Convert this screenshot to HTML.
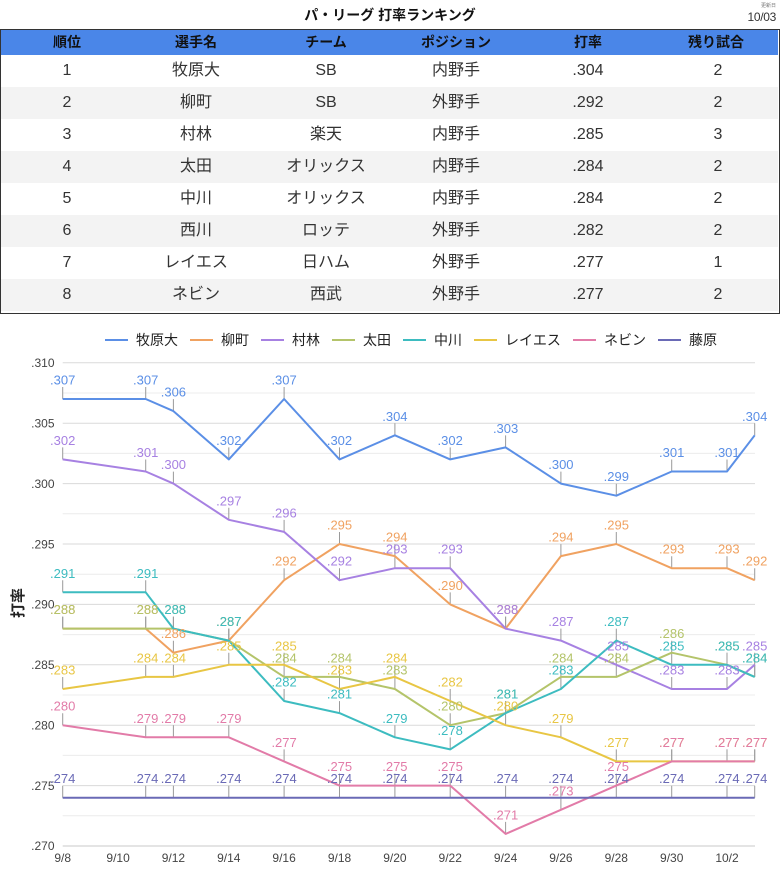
<!DOCTYPE html>
<html><head><meta charset="utf-8">
<style>
html,body{margin:0;padding:0;background:#fff;}
body{width:780px;height:878px;position:relative;overflow:hidden;font-family:"Liberation Sans","Noto Sans CJK JP",sans-serif;}
.title{position:absolute;left:0;top:5px;width:780px;text-align:center;font-weight:bold;font-size:14px;line-height:20px;color:#111;}
.upd{position:absolute;right:4px;top:3px;font-size:5px;line-height:6px;color:#777;}
.date{position:absolute;right:4px;top:10px;font-size:12px;line-height:14px;color:#333;letter-spacing:-0.3px;}
.tbl{position:absolute;left:0;top:29px;width:780px;height:285px;box-sizing:border-box;border:1.5px solid #333;}
.row{position:absolute;left:0;width:777px;height:32px;}
.hdr{top:0;height:25px;background:#4a86e8;}
.cell{position:absolute;top:0;width:130px;text-align:center;}
.hdr .cell{font-weight:bold;font-size:14px;line-height:25px;color:#111;}
.r .cell{font-size:16px;line-height:32px;color:#333;}
.alt{background:#f3f3f3;}
svg{position:absolute;left:0;top:0;}
</style></head><body>
<div class="title">パ・リーグ 打率ランキング</div>
<div class="upd">更新日</div>
<div class="date">10/03</div>
<div class="tbl">
 <div class="row hdr"><div class="cell" style="left:1px">順位</div><div class="cell" style="left:130px">選手名</div><div class="cell" style="left:260px">チーム</div><div class="cell" style="left:390px">ポジション</div><div class="cell" style="left:522px">打率</div><div class="cell" style="left:650px">残り試合</div></div>
 <div class="row r" style="top:25px"><div class="cell" style="left:1px">1</div><div class="cell" style="left:130px">牧原大</div><div class="cell" style="left:260px">SB</div><div class="cell" style="left:390px">内野手</div><div class="cell" style="left:522px">.304</div><div class="cell" style="left:652px">2</div></div>
 <div class="row r alt" style="top:57px"><div class="cell" style="left:1px">2</div><div class="cell" style="left:130px">柳町</div><div class="cell" style="left:260px">SB</div><div class="cell" style="left:390px">外野手</div><div class="cell" style="left:522px">.292</div><div class="cell" style="left:652px">2</div></div>
 <div class="row r" style="top:89px"><div class="cell" style="left:1px">3</div><div class="cell" style="left:130px">村林</div><div class="cell" style="left:260px">楽天</div><div class="cell" style="left:390px">内野手</div><div class="cell" style="left:522px">.285</div><div class="cell" style="left:652px">3</div></div>
 <div class="row r alt" style="top:121px"><div class="cell" style="left:1px">4</div><div class="cell" style="left:130px">太田</div><div class="cell" style="left:260px">オリックス</div><div class="cell" style="left:390px">内野手</div><div class="cell" style="left:522px">.284</div><div class="cell" style="left:652px">2</div></div>
 <div class="row r" style="top:153px"><div class="cell" style="left:1px">5</div><div class="cell" style="left:130px">中川</div><div class="cell" style="left:260px">オリックス</div><div class="cell" style="left:390px">内野手</div><div class="cell" style="left:522px">.284</div><div class="cell" style="left:652px">2</div></div>
 <div class="row r alt" style="top:185px"><div class="cell" style="left:1px">6</div><div class="cell" style="left:130px">西川</div><div class="cell" style="left:260px">ロッテ</div><div class="cell" style="left:390px">外野手</div><div class="cell" style="left:522px">.282</div><div class="cell" style="left:652px">2</div></div>
 <div class="row r" style="top:217px"><div class="cell" style="left:1px">7</div><div class="cell" style="left:130px">レイエス</div><div class="cell" style="left:260px">日ハム</div><div class="cell" style="left:390px">外野手</div><div class="cell" style="left:522px">.277</div><div class="cell" style="left:652px">1</div></div>
 <div class="row r alt" style="top:249px"><div class="cell" style="left:1px">8</div><div class="cell" style="left:130px">ネビン</div><div class="cell" style="left:260px">西武</div><div class="cell" style="left:390px">外野手</div><div class="cell" style="left:522px">.277</div><div class="cell" style="left:652px">2</div></div>
</div>

<svg width="780" height="878" viewBox="0 0 780 878" xmlns="http://www.w3.org/2000/svg" font-family="Liberation Sans, Noto Sans CJK JP, sans-serif">
 <g font-size="14" fill="#222">
  <line x1="105" y1="340" x2="128" y2="340" stroke="#5b8fe6" stroke-width="2"/><text x="136" y="345">牧原大</text>
  <line x1="190" y1="340" x2="213" y2="340" stroke="#f0a261" stroke-width="2"/><text x="221" y="345">柳町</text>
  <line x1="261" y1="340" x2="284" y2="340" stroke="#a781e2" stroke-width="2"/><text x="292" y="345">村林</text>
  <line x1="332" y1="340" x2="355" y2="340" stroke="#b4c46a" stroke-width="2"/><text x="363" y="345">太田</text>
  <line x1="403" y1="340" x2="426" y2="340" stroke="#3dbcc0" stroke-width="2"/><text x="434" y="345">中川</text>
  <line x1="474" y1="340" x2="497" y2="340" stroke="#e8c644" stroke-width="2"/><text x="505" y="345">レイエス</text>
  <line x1="573" y1="340" x2="596" y2="340" stroke="#e27ba8" stroke-width="2"/><text x="604" y="345">ネビン</text>
  <line x1="658" y1="340" x2="681" y2="340" stroke="#6a6ab6" stroke-width="2"/><text x="689" y="345">藤原</text>
 </g>
 <g stroke="#ececec" stroke-width="1">
  <line x1="62.7" x2="755" y1="815.8" y2="815.8"/><line x1="62.7" x2="755" y1="755.4" y2="755.4"/>
  <line x1="62.7" x2="755" y1="695" y2="695"/><line x1="62.7" x2="755" y1="634.6" y2="634.6"/>
  <line x1="62.7" x2="755" y1="574.2" y2="574.2"/><line x1="62.7" x2="755" y1="513.8" y2="513.8"/>
  <line x1="62.7" x2="755" y1="453.4" y2="453.4"/><line x1="62.7" x2="755" y1="393" y2="393"/>
 </g>
 <g stroke="#dadada" stroke-width="1">
  <line x1="62.7" x2="755" y1="785.6" y2="785.6"/><line x1="62.7" x2="755" y1="725.2" y2="725.2"/>
  <line x1="62.7" x2="755" y1="664.8" y2="664.8"/><line x1="62.7" x2="755" y1="604.4" y2="604.4"/>
  <line x1="62.7" x2="755" y1="544" y2="544"/><line x1="62.7" x2="755" y1="483.6" y2="483.6"/>
  <line x1="62.7" x2="755" y1="423.2" y2="423.2"/><line x1="62.7" x2="755" y1="362.8" y2="362.8"/>
  <line x1="62.7" x2="755" y1="846" y2="846" stroke="#c8c8c8"/>
 </g>
 <g font-size="12" fill="#444" text-anchor="end">
  <text x="54.5" y="367">.310</text><text x="54.5" y="427.5">.305</text><text x="54.5" y="488">.300</text>
  <text x="54.5" y="548.5">.295</text><text x="54.5" y="608.5">.290</text><text x="54.5" y="669">.285</text>
  <text x="54.5" y="729.5">.280</text><text x="54.5" y="790">.275</text><text x="54.5" y="850">.270</text>
 </g>
 <g font-size="12" fill="#444" text-anchor="middle">
  <text x="62.7" y="862">9/8</text><text x="118.1" y="862">9/10</text><text x="173.4" y="862">9/12</text>
  <text x="228.8" y="862">9/14</text><text x="284.1" y="862">9/16</text><text x="339.5" y="862">9/18</text>
  <text x="394.9" y="862">9/20</text><text x="450.2" y="862">9/22</text><text x="505.6" y="862">9/24</text>
  <text x="560.9" y="862">9/26</text><text x="616.3" y="862">9/28</text><text x="671.7" y="862">9/30</text>
  <text x="727" y="862">10/2</text>
 </g>
 <text x="0" y="0" transform="translate(23,603) rotate(-90)" text-anchor="middle" font-size="15" font-weight="bold" fill="#222">打率</text>

 <g stroke="#9a9a9a" stroke-width="1" fill="none">
  <path d="M62.7 399v-12M145.7 399v-12M173.4 411.1v-12M228.8 459.4v-12M284.1 399v-12M339.5 459.4v-12M394.9 435.3v-12M450.2 459.4v-12M505.6 447.4v-12M560.9 483.6v-12M616.3 495.7v-12M671.7 471.5v-12M727 471.5v-12M754.7 435.3v-12"/>
  <path d="M62.7 628.6v-12M145.7 628.6v-12M173.4 652.7v-12M228.8 640.6v-12M284.1 580.2v-12M339.5 544v-12M394.9 556.1v-12M450.2 604.4v-12M505.6 628.6v-12M560.9 556.1v-12M616.3 544v-12M671.7 568.2v-12M727 568.2v-12M754.7 580.2v-12"/>
  <path d="M62.7 459.4v-12M145.7 471.5v-12M173.4 483.6v-12M228.8 519.8v-12M284.1 531.9v-12M339.5 580.2v-12M394.9 568.2v-12M450.2 568.2v-12M505.6 628.6v-12M560.9 640.6v-12M616.3 664.8v-12M671.7 689v-12M727 689v-12M754.7 664.8v-12"/>
  <path d="M62.7 628.6v-12M145.7 628.6v-12M173.4 628.6v-12M228.8 640.6v-12M284.1 676.9v-12M339.5 676.9v-12M394.9 689v-12M450.2 725.2v-12M505.6 713.1v-12M560.9 676.9v-12M616.3 676.9v-12M671.7 652.7v-12M727 664.8v-12M754.7 676.9v-12"/>
  <path d="M62.7 592.3v-12M145.7 592.3v-12M173.4 628.6v-12M228.8 640.6v-12M284.1 701v-12M339.5 713.1v-12M394.9 737.3v-12M450.2 749.4v-12M505.6 713.1v-12M560.9 689v-12M616.3 640.6v-12M671.7 664.8v-12M727 664.8v-12M754.7 676.9v-12"/>
  <path d="M62.7 689v-12M145.7 676.9v-12M173.4 676.9v-12M228.8 664.8v-12M284.1 664.8v-12M339.5 689v-12M394.9 676.9v-12M450.2 701v-12M505.6 725.2v-12M560.9 737.3v-12M616.3 761.4v-12M671.7 761.4v-12M727 761.4v-12M754.7 761.4v-12"/>
  <path d="M62.7 725.2v-12M145.7 737.3v-12M173.4 737.3v-12M228.8 737.3v-12M284.1 761.4v-12M339.5 785.6v-12M394.9 785.6v-12M450.2 785.6v-12M505.6 833.9v-12M560.9 809.8v-12M616.3 785.6v-12M671.7 761.4v-12M727 761.4v-12M754.7 761.4v-12"/>
  <path d="M62.7 797.7v-12M145.7 797.7v-12M173.4 797.7v-12M228.8 797.7v-12M284.1 797.7v-12M339.5 797.7v-12M394.9 797.7v-12M450.2 797.7v-12M505.6 797.7v-12M560.9 797.7v-12M616.3 797.7v-12M671.7 797.7v-12M727 797.7v-12M754.7 797.7v-12"/>
 </g>

 <g fill="none" stroke-width="2" stroke-linejoin="round">
  <polyline stroke="#5b8fe6" points="62.7,399 145.7,399 173.4,411.1 228.8,459.4 284.1,399 339.5,459.4 394.9,435.3 450.2,459.4 505.6,447.4 560.9,483.6 616.3,495.7 671.7,471.5 727,471.5 754.7,435.3"/>
  <polyline stroke="#f0a261" points="62.7,628.6 145.7,628.6 173.4,652.7 228.8,640.6 284.1,580.2 339.5,544 394.9,556.1 450.2,604.4 505.6,628.6 560.9,556.1 616.3,544 671.7,568.2 727,568.2 754.7,580.2"/>
  <polyline stroke="#a781e2" points="62.7,459.4 145.7,471.5 173.4,483.6 228.8,519.8 284.1,531.9 339.5,580.2 394.9,568.2 450.2,568.2 505.6,628.6 560.9,640.6 616.3,664.8 671.7,689 727,689 754.7,664.8"/>
  <polyline stroke="#b4c46a" points="62.7,628.6 145.7,628.6 173.4,628.6 228.8,640.6 284.1,676.9 339.5,676.9 394.9,689 450.2,725.2 505.6,713.1 560.9,676.9 616.3,676.9 671.7,652.7 727,664.8 754.7,676.9"/>
  <polyline stroke="#3dbcc0" points="62.7,592.3 145.7,592.3 173.4,628.6 228.8,640.6 284.1,701 339.5,713.1 394.9,737.3 450.2,749.4 505.6,713.1 560.9,689 616.3,640.6 671.7,664.8 727,664.8 754.7,676.9"/>
  <polyline stroke="#e8c644" points="62.7,689 145.7,676.9 173.4,676.9 228.8,664.8 284.1,664.8 339.5,689 394.9,676.9 450.2,701 505.6,725.2 560.9,737.3 616.3,761.4 671.7,761.4 727,761.4 754.7,761.4"/>
  <polyline stroke="#e27ba8" points="62.7,725.2 145.7,737.3 173.4,737.3 228.8,737.3 284.1,761.4 339.5,785.6 394.9,785.6 450.2,785.6 505.6,833.9 560.9,809.8 616.3,785.6 671.7,761.4 727,761.4 754.7,761.4"/>
  <polyline stroke="#6a6ab6" points="62.7,797.7 754.7,797.7"/>
 </g>

 <g font-size="13" text-anchor="middle">
  <g fill="#5b8fe6">
   <text x="62.7" y="384.5">.307</text><text x="145.7" y="384.5">.307</text><text x="173.4" y="396.6">.306</text><text x="228.8" y="444.9">.302</text><text x="284.1" y="384.5">.307</text><text x="339.5" y="444.9">.302</text><text x="394.9" y="420.8">.304</text><text x="450.2" y="444.9">.302</text><text x="505.6" y="432.9">.303</text><text x="560.9" y="469.1">.300</text><text x="616.3" y="481.2">.299</text><text x="671.7" y="457">.301</text><text x="727" y="457">.301</text><text x="754.7" y="420.8">.304</text>
  </g>
  <g fill="#f0a261">
   <text x="62.7" y="614.1">.288</text><text x="145.7" y="614.1">.288</text><text x="173.4" y="638.2">.286</text><text x="228.8" y="626.1">.287</text><text x="284.1" y="565.7">.292</text><text x="339.5" y="529.5">.295</text><text x="394.9" y="541.6">.294</text><text x="450.2" y="589.9">.290</text><text x="505.6" y="614.1">.288</text><text x="560.9" y="541.6">.294</text><text x="616.3" y="529.5">.295</text><text x="671.7" y="553.7">.293</text><text x="727" y="553.7">.293</text><text x="754.7" y="565.7">.292</text>
  </g>
  <g fill="#a781e2">
   <text x="62.7" y="444.9">.302</text><text x="145.7" y="457">.301</text><text x="173.4" y="469.1">.300</text><text x="228.8" y="505.3">.297</text><text x="284.1" y="517.4">.296</text><text x="339.5" y="565.7">.292</text><text x="394.9" y="553.7">.293</text><text x="450.2" y="553.7">.293</text><text x="505.6" y="614.1">.288</text><text x="560.9" y="626.1">.287</text><text x="616.3" y="650.3">.285</text><text x="671.7" y="674.5">.283</text><text x="727" y="674.5">.283</text><text x="754.7" y="650.3">.285</text>
  </g>
  <g fill="#b4c46a">
   <text x="62.7" y="614.1">.288</text><text x="145.7" y="614.1">.288</text><text x="173.4" y="614.1">.288</text><text x="228.8" y="626.1">.287</text><text x="284.1" y="662.4">.284</text><text x="339.5" y="662.4">.284</text><text x="394.9" y="674.5">.283</text><text x="450.2" y="710.7">.280</text><text x="505.6" y="698.6">.281</text><text x="560.9" y="662.4">.284</text><text x="616.3" y="662.4">.284</text><text x="671.7" y="638.2">.286</text><text x="727" y="650.3">.285</text><text x="754.7" y="662.4">.284</text>
  </g>
  <g fill="#3dbcc0">
   <text x="62.7" y="577.8">.291</text><text x="145.7" y="577.8">.291</text><text x="173.4" y="614.1">.288</text><text x="228.8" y="626.1">.287</text><text x="284.1" y="686.5">.282</text><text x="339.5" y="698.6">.281</text><text x="394.9" y="722.8">.279</text><text x="450.2" y="734.9">.278</text><text x="505.6" y="698.6">.281</text><text x="560.9" y="674.5">.283</text><text x="616.3" y="626.1">.287</text><text x="671.7" y="650.3">.285</text><text x="727" y="650.3">.285</text><text x="754.7" y="662.4">.284</text>
  </g>
  <g fill="#e8c644">
   <text x="62.7" y="674.5">.283</text><text x="145.7" y="662.4">.284</text><text x="173.4" y="662.4">.284</text><text x="228.8" y="650.3">.285</text><text x="284.1" y="650.3">.285</text><text x="339.5" y="674.5">.283</text><text x="394.9" y="662.4">.284</text><text x="450.2" y="686.5">.282</text><text x="505.6" y="710.7">.280</text><text x="560.9" y="722.8">.279</text><text x="616.3" y="746.9">.277</text><text x="671.7" y="746.9">.277</text><text x="727" y="746.9">.277</text><text x="754.7" y="746.9">.277</text>
  </g>
  <g fill="#e27ba8">
   <text x="62.7" y="710.7">.280</text><text x="145.7" y="722.8">.279</text><text x="173.4" y="722.8">.279</text><text x="228.8" y="722.8">.279</text><text x="284.1" y="746.9">.277</text><text x="339.5" y="771.1">.275</text><text x="394.9" y="771.1">.275</text><text x="450.2" y="771.1">.275</text><text x="505.6" y="819.4">.271</text><text x="560.9" y="795.3">.273</text><text x="616.3" y="771.1">.275</text><text x="671.7" y="746.9">.277</text><text x="727" y="746.9">.277</text><text x="754.7" y="746.9">.277</text>
  </g>
  <g fill="#6a6ab6">
   <text x="62.7" y="783.2">.274</text><text x="145.7" y="783.2">.274</text><text x="173.4" y="783.2">.274</text><text x="228.8" y="783.2">.274</text><text x="284.1" y="783.2">.274</text><text x="339.5" y="783.2">.274</text><text x="394.9" y="783.2">.274</text><text x="450.2" y="783.2">.274</text><text x="505.6" y="783.2">.274</text><text x="560.9" y="783.2">.274</text><text x="616.3" y="783.2">.274</text><text x="671.7" y="783.2">.274</text><text x="727" y="783.2">.274</text><text x="754.7" y="783.2">.274</text>
  </g>
 </g>
</svg>
</body></html>
